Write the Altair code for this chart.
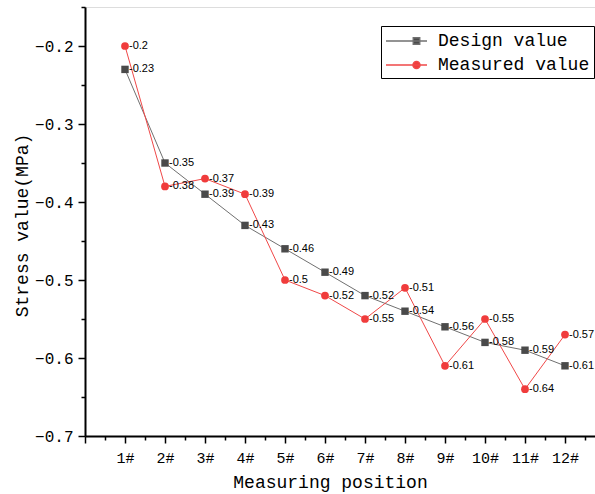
import altair as alt
import pandas as pd

positions = list(range(1, 13))
design = [-0.23, -0.35, -0.39, -0.43, -0.46, -0.49, -0.52, -0.54, -0.56, -0.58, -0.59, -0.61]
measured = [-0.2, -0.38, -0.37, -0.39, -0.5, -0.52, -0.55, -0.51, -0.61, -0.55, -0.64, -0.57]
series_names = ["Design value", "Measured value"]

rows = []
for s, vals in [(series_names[0], design), (series_names[1], measured)]:
    for p, v in zip(positions, vals):
        rows.append({"pos": p, "value": v, "series": s, "label": str(v)})
df = pd.DataFrame(rows)

FONT = "Liberation Mono"
marker_colors = ["#4a4a4a", "#f03c3c"]
line_colors = ["#707070", "#f04848"]
legend_paths = [
    "M-1,0H3.1M1.73,-0.32H2.37V0.32H1.73Z",
    "M-1,0H3.1M2.4,0A0.35,0.35 0 1,1 1.7,0A0.35,0.35 0 1,1 2.4,0Z",
]

x_major = list(range(0, 13))
x_minor = [i + 0.5 for i in range(0, 13)]
y_major = [-0.7, -0.6, -0.5, -0.4, -0.3, -0.2]
y_minor = [-0.65, -0.55, -0.45, -0.35, -0.25, -0.15]

xs = alt.Scale(domain=[0, 12.75], nice=False, zero=False)
ys = alt.Scale(domain=[-0.7, -0.15], nice=False, zero=False)

x_axis = alt.Axis(
    orient="bottom", values=x_major,
    labelExpr="datum.value >= 1 ? datum.value + '#' : ''",
    tickSize=7, tickWidth=1.5, tickColor="black", domainColor="black", domainWidth=2,
    grid=False, labelFont=FONT, labelFontSize=15, labelColor="black",
    labelPadding=7, labelOverlap=False, labelFlush=False, labelBound=False,
    title="Measuring position", titleFont=FONT, titleFontSize=18,
    titleFontWeight="normal", titleColor="black",
    titleX=245, titleY=46, titleBaseline="middle", titleAlign="center",
)
y_axis = alt.Axis(
    orient="left", values=y_major, format=".1f",
    tickSize=7, tickWidth=1.5, tickColor="black", domainColor="black", domainWidth=2,
    grid=False, labelFont=FONT, labelFontSize=16, labelColor="black",
    labelPadding=5, labelOverlap=False, labelFlush=False, labelBound=False,
    title="Stress value(MPa)", titleFont=FONT, titleFontSize=18,
    titleFontWeight="normal", titleColor="black",
    titleX=-63, titleY=218, titleBaseline="middle", titleAlign="center",
)
x_minor_axis = alt.Axis(orient="bottom", values=x_minor, tickSize=4, tickWidth=1.5, tickColor="black",
                        domain=False, labels=False, grid=False, title=None)
y_minor_axis = alt.Axis(orient="left", values=y_minor, tickSize=4, tickWidth=1.5, tickColor="black",
                        domain=False, labels=False, grid=False, title=None)

base = alt.Chart(df)
nx = alt.X("pos:Q", scale=xs, axis=None)
ny = alt.Y("value:Q", scale=ys, axis=None)

minor = base.mark_point(opacity=0).transform_filter("datum.pos < 0").encode(
    x=alt.X("pos:Q", scale=xs, axis=x_minor_axis),
    y=alt.Y("value:Q", scale=ys, axis=y_minor_axis),
)
axes_layer = base.mark_point(opacity=0).transform_filter("datum.pos < 0").encode(
    x=alt.X("pos:Q", scale=xs, axis=x_axis),
    y=alt.Y("value:Q", scale=ys, axis=y_axis),
)

layers = [minor, axes_layer]
for i, s in enumerate(series_names):
    sub = base.transform_filter(alt.datum.series == s)
    layers.append(sub.mark_line(strokeWidth=1, color=line_colors[i]).encode(x=nx, y=ny))
for i, s in enumerate(series_names):
    sub = base.transform_filter(alt.datum.series == s)
    layers.append(sub.mark_point(filled=True, opacity=1, size=[55, 60][i],
                                 shape=["square", "circle"][i], color=marker_colors[i]).encode(x=nx, y=ny))

texts = base.mark_text(align="left", baseline="middle", dx=4, font="Liberation Sans", fontSize=11, color="black").encode(
    x=nx, y=ny, text="label:N",
)
layers.append(texts)

leg = alt.Legend(
    title=None, orient="none", legendX=296, legendY=19, direction="vertical",
    symbolSize=400, symbolStrokeWidth=1.5, symbolOpacity=1,
    labelFont=FONT, labelFontSize=18, labelColor="black", labelOffset=31, labelLimit=0,
    rowPadding=4, padding=4, strokeColor="black", fillColor="white", cornerRadius=0,
)

legend_layer = base.mark_point(filled=True, size=400, strokeWidth=1.5, opacity=1).transform_filter(
    "datum.pos < 0"
).encode(
    x=nx, y=ny,
    color=alt.Color("series:N", scale=alt.Scale(domain=series_names, range=marker_colors), legend=leg),
    stroke=alt.Stroke("series:N", scale=alt.Scale(domain=series_names, range=line_colors), legend=leg),
    shape=alt.Shape("series:N", scale=alt.Scale(domain=series_names, range=legend_paths), legend=leg),
)
layers.append(legend_layer)

chart = alt.layer(*layers).resolve_axis(
    x="independent", y="independent"
).properties(
    width=510, height=429,
    autosize=alt.AutoSizeParams(type="none"),
    padding={"left": 85, "top": 7, "right": 0, "bottom": 58},
).configure_view(stroke=None).configure(background="white")

chart.save("out.html", embed_options={"renderer": "svg", "actions": False})
